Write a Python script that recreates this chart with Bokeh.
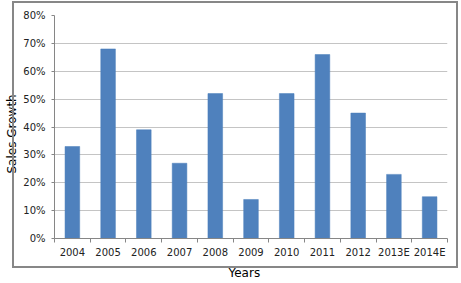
from bokeh.plotting import figure
from bokeh.models import Range1d, FixedTicker, NumeralTickFormatter, InlineStyleSheet, Title
from bokeh.embed import file_html
from bokeh.resources import INLINE

years = ["2004", "2005", "2006", "2007", "2008", "2009", "2010", "2011", "2012", "2013E", "2014E"]
growth = [0.33, 0.68, 0.39, 0.27, 0.52, 0.14, 0.52, 0.66, 0.45, 0.23, 0.15]
y_ticks = [0.0, 0.1, 0.2, 0.3, 0.4, 0.5, 0.6, 0.7, 0.8]

FONT = "DejaVu Sans"

p = figure(width=461, height=283, output_backend="svg", toolbar_location=None,
           x_range=Range1d(0, len(years)), y_range=Range1d(0, 0.8),
           min_border_left=53, min_border_right=14, min_border_top=15, min_border_bottom=45)
p.outline_line_color = None
p.background_fill_color = "white"
p.border_fill_color = "white"

centers = [i + 0.5 for i in range(len(years))]
p.vbar(x=centers, top=growth, width=0.41, bottom=0, fill_color="#4F81BD", line_color="#4A7EBB", line_width=0.5)

# x axis
xa = p.xaxis[0]
xa.ticker = FixedTicker(ticks=centers, minor_ticks=list(range(len(years) + 1)))
xa.major_label_overrides = {c: y for c, y in zip(centers, years)}
xa.major_tick_line_color = None
xa.major_tick_out = 4
xa.major_tick_in = 0
xa.minor_tick_line_color = "#868686"
xa.minor_tick_out = 4
xa.minor_tick_in = 0
xa.axis_line_color = "#868686"
xa.major_label_text_font = FONT
xa.major_label_text_font_size = "10px"
xa.major_label_text_color = "#222222"
xa.major_label_standoff = 4

# y axis
ya = p.yaxis[0]
ya.ticker = FixedTicker(ticks=y_ticks)
ya.formatter = NumeralTickFormatter(format="0%")
ya.major_tick_line_color = "#868686"
ya.major_tick_out = 3
ya.major_tick_in = 0
ya.minor_tick_line_color = None
ya.axis_line_color = "#868686"
ya.major_label_text_font = FONT
ya.major_label_text_font_size = "10px"
ya.major_label_text_color = "#222222"
ya.major_label_standoff = 6

p.xgrid.grid_line_color = None
p.ygrid.grid_line_color = "#c4c4c4"
p.ygrid.grid_line_width = 1

# axis titles as Title annotations in the side panels
p.add_layout(Title(text="Sales Growth", align="left", offset=65, standoff=4,
                   text_font=FONT, text_font_size="12px", text_font_style="normal",
                   text_color="black"), "left")
p.add_layout(Title(text="Years", align="left", offset=174, standoff=7,
                   text_font=FONT, text_font_size="12px", text_font_style="normal",
                   text_color="black"), "below")

# outer chart border drawn as a CSS overlay on the figure element
p.stylesheets = [InlineStyleSheet(css="""
:host::after {
  content: "";
  position: absolute;
  left: 12px; top: 1px; width: 446px; height: 267px;
  border: 2px solid #878787;
  box-sizing: border-box;
  pointer-events: none;
}
""")]

open("out.html", "w").write(file_html(p, INLINE))
